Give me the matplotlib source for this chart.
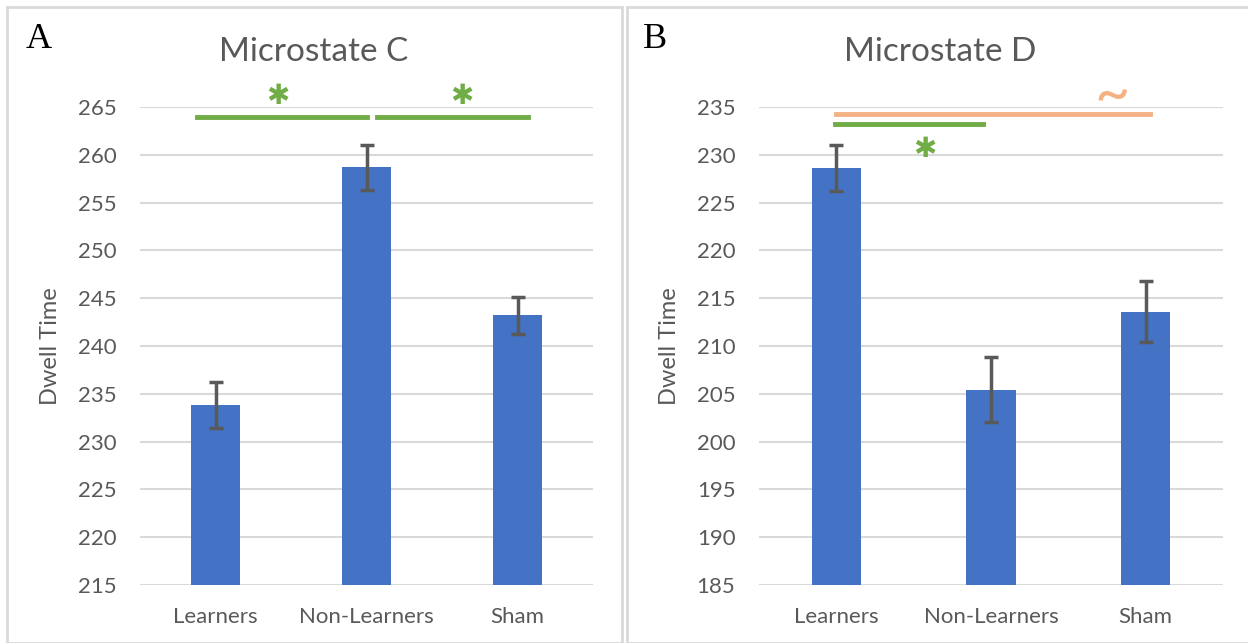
import numpy as np
import matplotlib.pyplot as plt
from matplotlib.patches import Rectangle

# dane
groups = ["Learners", "Non-Learners", "Sham"]
dwell_c = [233.8, 258.7, 243.2]
err_c = [2.4, 2.35, 1.95]
dwell_d = [228.6, 205.4, 213.6]
err_d = [2.4, 3.4, 3.2]

ticks_c = np.arange(215, 266, 5)
ticks_d = np.arange(185, 236, 5)

blue = "#4472C4"
green = "#70AD47"
orange = "#F4B183"
grey = "#595959"

plt.rcParams['font.family'] = ['Lato', 'DejaVu Sans']

fig = plt.figure(figsize=(12.48, 6.43), dpi=100)
W, H = 1248, 643

# ramki paneli
fig.patches.append(Rectangle((7 / W, 0), (622 - 7) / W, 1 - 7 / H, transform=fig.transFigure,
                             fill=False, edgecolor="#D9D9D9", lw=2))
fig.patches.append(Rectangle((627 / W, 0), (1260 - 627) / W, 1 - 7 / H, transform=fig.transFigure,
                             fill=False, edgecolor="#D9D9D9", lw=2, clip_on=False))


def panel(rect, values, errs, ticks, title, title_x, letter, letter_x):
    ax = fig.add_axes(rect)
    x = np.arange(len(groups))
    ax.bar(x, values, width=0.32, color=blue, zorder=3)
    ax.errorbar(x, values, yerr=errs, fmt="none", ecolor=grey, elinewidth=2.5,
                capsize=5, capthick=2.5, zorder=4)
    ax.set_xlim(-0.5, 2.5)
    ax.set_ylim(ticks[0], ticks[-1])
    ax.set_yticks(ticks)
    ax.set_xticks(x)
    ax.set_xticklabels(groups)
    ax.tick_params(length=0, labelsize=16, labelcolor=grey, pad=16)
    ax.tick_params(axis="y", pad=17)
    ax.grid(axis="y", color="#D9D9D9", lw=1.5, zorder=0)
    for s in ax.spines.values():
        s.set_visible(False)
    ax.set_ylabel("Dwell Time", fontsize=17, color=grey, labelpad=12)
    fig.text(title_x / W, 1 - 52 / H, title, fontsize=24, color=grey,
             ha="center", va="center")
    fig.text(letter_x / W, 1 - 40 / H, letter, fontsize=26, family="Liberation Serif",
             va="center", ha="left")
    return ax


def star(ax, x, y):
    ax.text(x, y, "\u2731", color=green, fontsize=20, ha="center", va="center",
            family="DejaVu Sans")


ax1 = panel([140 / W, 1 - 585 / H, 453 / W, 478 / H], dwell_c, err_c, ticks_c,
            "Microstate C", 314, "A", 26)
ax1.plot([-0.12, 1.0], [264.0, 264.0], color=green, lw=3.5, clip_on=False)
ax1.plot([1.07, 2.07], [264.0, 264.0], color=green, lw=3.5, clip_on=False)
star(ax1, 0.41, 266.2)
star(ax1, 1.63, 266.2)

ax2 = panel([759 / W, 1 - 585 / H, 464 / W, 478 / H], dwell_d, err_d, ticks_d,
            "Microstate D", 940, "B", 643)
ax2.plot([0.0, 2.03], [234.3, 234.3], color=orange, lw=3.5, clip_on=False)
ax2.plot([-0.01, 0.95], [233.25, 233.25], color=green, lw=3.5, clip_on=False)
star(ax2, 0.57, 230.6)
ax2.text(1.78, 236.2, "~", color=orange, fontsize=44, ha="center", va="center")

fig.savefig("out.png", dpi=100)
